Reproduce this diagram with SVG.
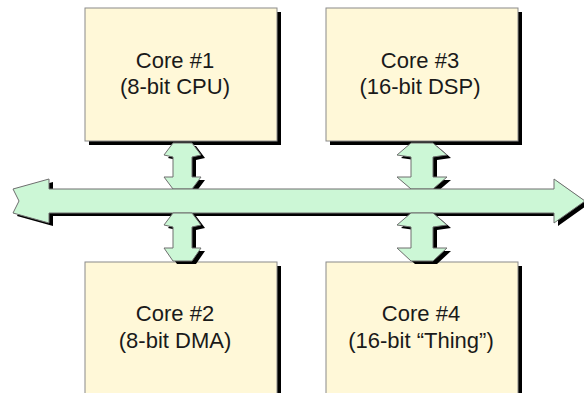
<svg xmlns="http://www.w3.org/2000/svg" width="584" height="393" viewBox="0 0 584 393">
<style>
.box{fill:#FFF8D8;stroke:#8A8A8A;stroke-width:1}
.sh{fill:#000000;stroke:none}
.conn{fill:#CCF7D6;stroke:#6E6E6E;stroke-width:1;stroke-linejoin:miter}
.t{font-family:"Liberation Sans",Arial,sans-serif;font-size:22px;fill:#1A1A1A;text-anchor:middle}
</style>
<g id="core1">
<rect class="sh" x="89" y="12" width="192" height="133"/>
<rect class="box" x="85" y="8" width="192" height="133"/>
<text class="t" x="175" y="68">Core #1</text>
<text class="t" x="175" y="94">(8-bit CPU)</text>
</g>
<g id="core3">
<rect class="sh" x="330" y="12" width="192" height="133"/>
<rect class="box" x="326" y="8" width="192" height="133"/>
<text class="t" x="420" y="68">Core #3</text>
<text class="t" x="420" y="94">(16-bit DSP)</text>
</g>
<g id="core2">
<rect class="sh" x="89" y="266" width="192" height="140"/>
<rect class="box" x="85" y="262" width="192" height="140"/>
<text class="t" x="175" y="321">Core #2</text>
<text class="t" x="175" y="348">(8-bit DMA)</text>
</g>
<g id="core4">
<rect class="sh" x="330" y="266" width="192" height="140"/>
<rect class="box" x="326" y="262" width="192" height="140"/>
<text class="t" x="421" y="321">Core #4</text>
<text class="t" x="421" y="348">(16-bit “Thing”)</text>
</g>
<g id="connectors">
<g transform="translate(4,3)">
<polygon class="sh" points="173,143 192,143 201,155 192,157 192,177 201,177 192,189 173,189 164,177 173,177 173,157 164,155"/>
<polygon class="sh" points="173,213 192,213 201,225 192,227 192,248 201,248 192,261 173,261 164,248 173,248 173,227 164,225"/>
<polygon class="sh" points="411,143 433,143 447,155 433,157 433,177 447,177 433,189 411,189 397,177 411,177 411,157 397,155"/>
<polygon class="sh" points="411,213 433,213 447,225 433,227 433,248 447,248 433,261 411,261 397,248 411,248 411,227 397,225"/>
<polygon class="sh" points="13,189 49,179 49,189 554,189 554,179 585,201 554,223 554,213 49,213 49,223 13,213 19,201"/>
</g>
<polygon class="conn" points="173,143 192,143 201,155 192,157 192,177 201,177 192,189 173,189 164,177 173,177 173,157 164,155"/>
<polygon class="conn" points="411,143 433,143 447,155 433,157 433,177 447,177 433,189 411,189 397,177 411,177 411,157 397,155"/>
<polygon class="conn" points="13,189 49,179 49,189 554,189 554,179 585,201 554,223 554,213 49,213 49,223 13,213 19,201"/>
<polygon class="conn" points="173,213 192,213 201,225 192,227 192,248 201,248 192,261 173,261 164,248 173,248 173,227 164,225"/>
<polygon class="conn" points="411,213 433,213 447,225 433,227 433,248 447,248 433,261 411,261 397,248 411,248 411,227 397,225"/>
</g>
</svg>
